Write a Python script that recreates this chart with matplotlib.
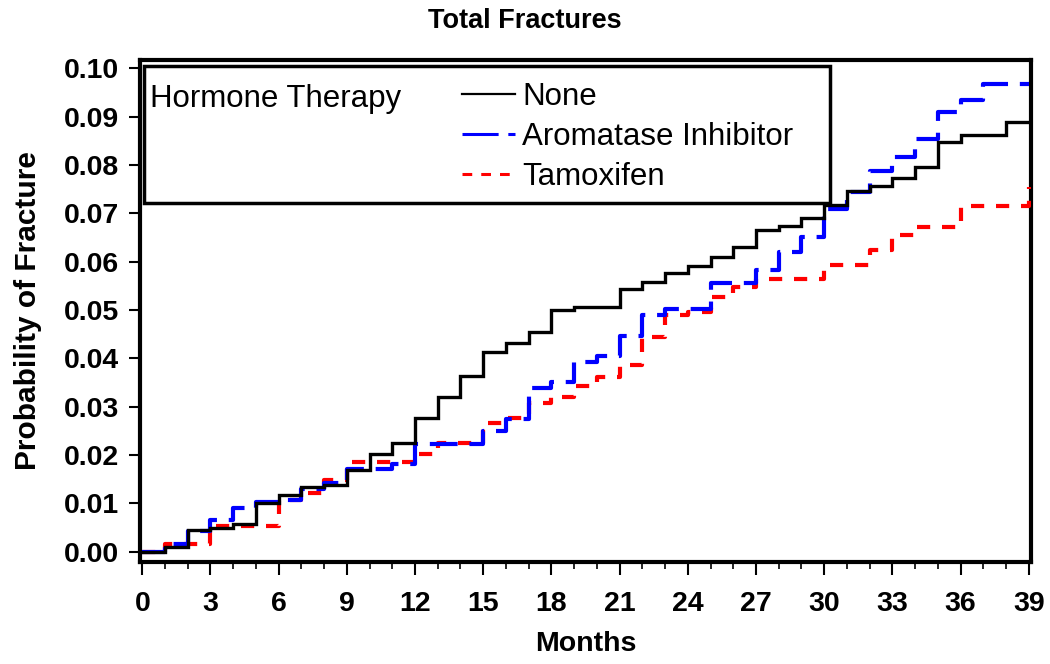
import matplotlib
matplotlib.use("Agg")
import matplotlib.pyplot as plt
from matplotlib.lines import Line2D
from matplotlib.patches import Rectangle
from matplotlib.ticker import MultipleLocator, FormatStrFormatter

plt.rcParams['font.family'] = ['Liberation Sans', 'DejaVu Sans']
plt.rcParams['lines.scale_dashes'] = False

# ---- data (months at which each step begins, cumulative probability) ----
none_t = [0, 1, 2, 3, 4, 5, 6, 7, 8, 9, 10, 11, 12, 13, 14, 15, 16, 17, 18, 19,
          21, 22, 23, 24, 25, 26, 27, 28, 29, 30, 31, 32, 33, 34, 35, 36, 38, 39]
none_v = [0.0, 0.0011, 0.0045, 0.0049, 0.0058, 0.0102, 0.0118, 0.0135, 0.0138,
          0.0169, 0.0202, 0.0226, 0.0276, 0.0321, 0.0364, 0.0413, 0.0431, 0.0455,
          0.0500, 0.0507, 0.0544, 0.0558, 0.0576, 0.0591, 0.0609, 0.0630, 0.0665,
          0.0674, 0.0691, 0.0717, 0.0746, 0.0757, 0.0774, 0.0795, 0.0848, 0.0862,
          0.0889, 0.0889]

ai_t = [0, 1, 2, 3, 4, 5, 6, 7, 8, 9, 11, 12, 15, 16, 17, 18, 19, 20, 21, 22,
        23, 25, 27, 28, 29, 30, 31, 32, 33, 34, 35, 36, 37, 39]
ai_v = [0.0, 0.0017, 0.0044, 0.0065, 0.0091, 0.0104, 0.0107, 0.0130, 0.0143,
        0.0171, 0.0181, 0.0222, 0.0249, 0.0275, 0.0338, 0.0352, 0.0393, 0.0404,
        0.0446, 0.0490, 0.0503, 0.0555, 0.0583, 0.0620, 0.0650, 0.0708, 0.0745,
        0.0788, 0.0817, 0.0853, 0.0910, 0.0935, 0.0967, 0.0967]

tam_t = [0, 1, 3, 6, 7, 8, 9, 12, 13, 15, 16, 17, 18, 19, 20, 21, 22, 23, 24,
         25, 26, 27, 30, 32, 33, 34, 36, 39]
tam_v = [0.0, 0.0017, 0.0053, 0.0108, 0.0121, 0.0149, 0.0185, 0.0202, 0.0225,
         0.0267, 0.0276, 0.0307, 0.0321, 0.0342, 0.0362, 0.0386, 0.0445, 0.0490,
         0.0496, 0.0527, 0.0548, 0.0565, 0.0593, 0.0624, 0.0655, 0.0671, 0.0716,
         0.0755]

x_ticks = list(range(0, 40, 3))
y_ticks = [0.00, 0.01, 0.02, 0.03, 0.04, 0.05, 0.06, 0.07, 0.08, 0.09, 0.10]

series_labels = ["None", "Aromatase Inhibitor", "Tamoxifen"]
legend_title = "Hormone Therapy"

# ---- figure ----
fig = plt.figure(figsize=(10.5, 6.64), dpi=100)
ax = fig.add_axes([140/1050, 1 - 562/664, 891/1050, 502/664])

black_style = dict(color='black', lw=2.4, solid_joinstyle='miter')
blue_style = dict(color='#0000FF', lw=3.0, dashes=(20, 8.5))
red_style = dict(color='#FF0000', lw=3.0, dashes=(9.5, 8.5))

ax.step(tam_t, tam_v, where='post', zorder=3, **red_style)
ax.step(ai_t, ai_v, where='post', zorder=4, **blue_style)
ax.step(none_t, none_v, where='post', zorder=5, **black_style)

ax.set_xlim(-0.1, 39.1)
ax.set_ylim(-0.0021, 0.1017)
ax.set_xticks(x_ticks)
ax.xaxis.set_minor_locator(MultipleLocator(1))
ax.set_yticks(y_ticks)
ax.yaxis.set_major_formatter(FormatStrFormatter('%.2f'))

for s in ax.spines.values():
    s.set_linewidth(3)
ax.tick_params(axis='both', which='major', direction='out', length=8, width=1.5,
               labelsize=20.5, pad=7)
ax.tick_params(axis='x', which='major', length=9, pad=12)
ax.tick_params(axis='x', which='minor', direction='out', length=5, width=1.2)
for lab in ax.get_xticklabels() + ax.get_yticklabels():
    lab.set_fontweight('bold')

ax.set_xlabel("Months", fontsize=20.5, fontweight='bold', labelpad=10)
ax.set_ylabel("Probability of Fracture", fontsize=21.5, fontweight='bold', labelpad=16)
fig.text(0.5, 1 - 21/664, "Total Fractures", ha='center', va='center',
         fontsize=19.5, fontweight='bold')

# ---- legend box (drawn manually) ----
def axc(px, py):
    return ((px - 140) / 891, (562 - py) / 502)

x0, y1 = axc(144, 66)
x1, y0 = axc(830, 203)
ax.add_patch(Rectangle((x0, y0), x1 - x0, y1 - y0, transform=ax.transAxes,
                       fill=True, facecolor='white', edgecolor='black', lw=2.5,
                       zorder=10))
tx, ty = axc(150, 99)
ax.text(tx, ty, legend_title, transform=ax.transAxes, fontsize=22.5,
        va='center', ha='left', zorder=11)

rows_y = [97, 137, 177]
styles = [dict(color='black', lw=1.6),
          dict(color='#0000FF', lw=2.2, dashes=(26, 7)),
          dict(color='#FF0000', lw=2.2, dashes=(7, 6.5))]
for lbl, ry, st in zip(series_labels, rows_y, styles):
    lx0, ly = axc(462, ry - 3)
    lx1, _ = axc(515, ry - 3)
    ax.add_line(Line2D([lx0, lx1], [ly, ly], transform=ax.transAxes, zorder=11, **st))
    tx, ty = axc(522, ry)
    ax.text(tx, ty, lbl, transform=ax.transAxes, fontsize=22.5, va='center',
            ha='left', zorder=11)

fig.savefig("out.png", dpi=100)
